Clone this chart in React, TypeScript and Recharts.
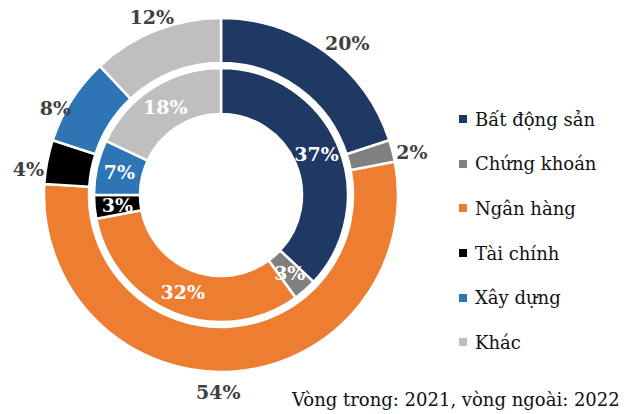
import { PieChart, Pie, Cell } from "recharts";

const SECTORS = ["Bất động sản", "Chứng khoán", "Ngân hàng", "Tài chính", "Xây dựng", "Khác"];
const COLORS = ["#203864", "#808080", "#ED7D31", "#000000", "#2E75B6", "#BFBFBF"];
const Y2021 = [37, 3, 32, 3, 7, 18];
const Y2022 = [20, 2, 54, 4, 8, 12];

const FONT = "'DejaVu Serif', serif";
const RAD = Math.PI / 180;

// small per-label shifts to mimic Excel's outside-end placement
const OUTER_NUDGE: [number, number][] = [[11, 7], [1, 6], [-15, 1], [0, 11], [0, 18], [3, 4]];

const inner = SECTORS.map((name, i) => ({ name, value: Y2021[i] }));
const outer = SECTORS.map((name, i) => ({ name, value: Y2022[i] }));

const innerLabel = (p: any) => {
  const r = (p.innerRadius + p.outerRadius) / 2;
  const x = p.cx + r * Math.cos(-p.midAngle * RAD);
  const y = p.cy + r * Math.sin(-p.midAngle * RAD);
  return (
    <text x={x} y={y} fill="#fff" textAnchor="middle" dominantBaseline="central"
      fontFamily={FONT} fontWeight="bold" fontSize={19}>
      {`${p.value}%`}
    </text>
  );
};

const outerLabel = (p: any) => {
  const r = p.outerRadius + 19;
  const [dx, dy] = OUTER_NUDGE[p.index] || [0, 0];
  const x = p.cx + r * Math.cos(-p.midAngle * RAD) + dx;
  const y = p.cy + r * Math.sin(-p.midAngle * RAD) + dy;
  return (
    <text x={x} y={y} fill="#404040" textAnchor="middle" dominantBaseline="central"
      fontFamily={FONT} fontWeight="bold" fontSize={19}>
      {`${p.value}%`}
    </text>
  );
};

export default function App() {
  return (
    <div style={{ position: "absolute", left: 0, top: 0, width: 634, height: 414, background: "#fff" }}>
      <PieChart width={634} height={414} margin={{ top: 0, right: 0, bottom: 0, left: 0 }}>
        <Pie data={inner} dataKey="value" cx={221} cy={195} innerRadius={81} outerRadius={127}
          startAngle={90} endAngle={-270} stroke="#fff" strokeWidth={2.5}
          label={innerLabel} labelLine={false} isAnimationActive={false}>
          {inner.map((d, i) => <Cell key={d.name} fill={COLORS[i]} />)}
        </Pie>
        <Pie data={outer} dataKey="value" cx={221} cy={195} innerRadius={132} outerRadius={177}
          startAngle={90} endAngle={-270} stroke="#fff" strokeWidth={2.5}
          label={outerLabel} labelLine={false} isAnimationActive={false}>
          {outer.map((d, i) => <Cell key={d.name} fill={COLORS[i]} />)}
        </Pie>
      </PieChart>
      <div style={{ position: "absolute", left: 459, top: 97, fontFamily: FONT, fontSize: 18, color: "#111" }}>
        {SECTORS.map((s, i) => (
          <div key={s} style={{ height: 44.6, display: "flex", alignItems: "center", whiteSpace: "nowrap" }}>
            <span style={{ width: 8, height: 8, background: COLORS[i], marginRight: 8, flex: "none" }} />
            <span>{s}</span>
          </div>
        ))}
      </div>
      <div style={{ position: "absolute", left: 292, top: 389, fontFamily: FONT, fontSize: 18, color: "#111", whiteSpace: "nowrap" }}>
        Vòng trong: 2021, vòng ngoài: 2022
      </div>
    </div>
  );
}
